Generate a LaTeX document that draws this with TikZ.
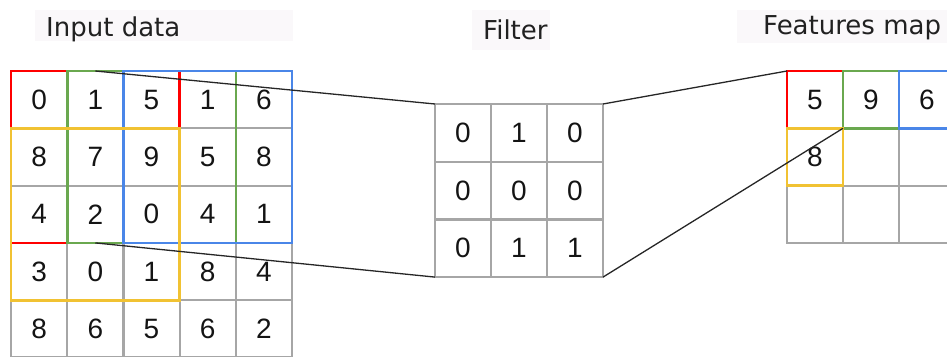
\documentclass[tikz,border=0pt]{standalone}
\usepackage{fontspec}
\setmainfont{DejaVu Sans}
\newfontfamily\digitfont{Liberation Sans}
\definecolor{gridgray}{HTML}{A6A6A6}
\definecolor{gred}{HTML}{FF0000}
\definecolor{ggreen}{HTML}{6AA84F}
\definecolor{gblue}{HTML}{4A86E8}
\definecolor{gyellow}{HTML}{F1C232}
\definecolor{titlebg}{HTML}{FAF8FA}
\begin{document}
\begin{tikzpicture}[x=1pt,y=-1pt,
  cell/.style={draw=gridgray, line width=2.2pt, minimum width=56.2pt, minimum height=57.3pt,
    inner sep=0pt, outer sep=0pt, font=\digitfont\fontsize{28}{28}\selectfont, text=black!92},
  fcell/.style={cell, minimum width=56pt, minimum height=57.7pt},
  mcell/.style={cell, minimum width=56pt},
  title/.style={anchor=base west, inner sep=0pt, font=\fontsize{26}{26}\selectfont, text=black!87},
  titlebox/.style={fill=titlebg, draw=none},
  hl/.style={line width=2.6pt},
  link/.style={draw=black!85, line width=1.3pt}]
\useasboundingbox (0,0) rectangle (947,356);
\clip (0,0) rectangle (947,356);

% title backgrounds and titles
\fill[titlebox] (35,10) rectangle (293,41);
\fill[titlebox] (472,10) rectangle (550,50);
\fill[titlebox] (737,10) rectangle (947,43);
\node[title] (t-in) at (46,36) {Input data};
\node[title] (t-f) at (483,39) {Filter};
\node[title] (t-fm) at (763,34) {Features map};

% input data
\foreach \row [count=\r from 0] in {{0,1,5,1,6},{8,7,9,5,8},{4,2,0,4,1},{3,0,1,8,4},{8,6,5,6,2}} {
  \foreach \v [count=\c from 0] in \row {
    \node[cell] (in-\r-\c) at ({11+56.2*(\c+0.5)},{71+57.3*(\r+0.5)}) {\v};
  }
}
% filter
\foreach \row [count=\r from 0] in {{0,1,0},{0,0,0},{0,1,1}} {
  \foreach \v [count=\c from 0] in \row {
    \node[fcell] (f-\r-\c) at ({435+56*(\c+0.5)},{104+57.7*(\r+0.5)}) {\v};
  }
}
% features map
\foreach \row [count=\r from 0] in {{5,9,6},{8,{},{}},{{},{},{}}} {
  \foreach \v [count=\c from 0] in \row {
    \node[mcell] (fm-\r-\c) at ({787+56*(\c+0.5)},{71+57.3*(\r+0.5)}) {\v};
  }
}

% highlighted windows
\draw[hl, gred] (in-0-0.north west) rectangle (in-2-2.south east);
\draw[hl, ggreen] (in-0-1.north west) rectangle (in-2-3.south east);
\draw[hl, gblue] (in-0-2.north west) rectangle (in-2-4.south east);
\draw[hl, gyellow] (in-1-0.north west) rectangle (in-3-2.south east);

\draw[hl, gred] (fm-0-0.north west) rectangle (fm-0-0.south east);
\draw[hl, ggreen] (fm-0-1.north west) rectangle (fm-0-1.south east);
\draw[hl, gblue] (fm-0-2.north west) rectangle (fm-0-2.south east);
\draw[hl, gyellow] (fm-1-0.north west) rectangle (fm-1-0.south east);

% connectors
\draw[link] (in-0-1.north) -- (f-0-0.north west);
\draw[link] (in-2-1.south) -- (f-2-0.south west);
\draw[link] (f-0-2.north east) -- (fm-0-0.north west);
\draw[link] (f-2-2.south east) -- (fm-0-0.south east);
\end{tikzpicture}
\end{document}
